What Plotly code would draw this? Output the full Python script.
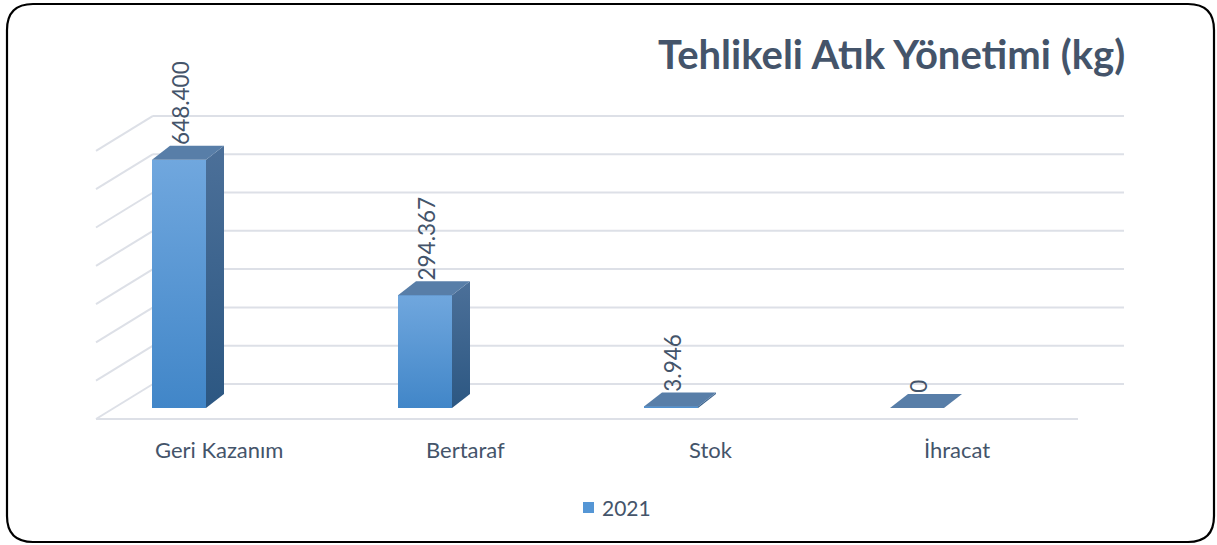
import plotly.graph_objects as go

# ---------------- data ----------------
categories = ["Geri Kazanım", "Bertaraf", "Stok", "İhracat"]
values_2021 = [648400, 294367, 3946, 0]
value_labels = ["648.400", "294.367", "3.946", "0"]
series_name = "2021"
title_text = "Tehlikeli Atık Yönetimi (kg)"
grid_ticks = [0, 100000, 200000, 300000, 400000, 500000, 600000, 700000]

# ---------------- layout constants (pixels) ----------------
W, H = 1217, 545
PXU = 38.3 / 100000.0          # px per value unit
BASE_PX = 408                  # pixel row of bar base (value 0)
CAT_PX = 246                   # px per category
FIRST_PX = 179                 # centre of first bar front
BAR_W_PX = 54
DEPTH_DX_PX, DEPTH_DY_PX = 18, 14      # bar depth
WALL_UP_PX = 24                # back wall 0 is 24 px above bar base
SIDE_DX_PX, SIDE_DY_PX = 57, 35        # floor depth

TXT = "#44546A"
GRID = "#DDE0E7"

def u(px):  # pixel distance -> value units
    return px / PXU

x_lo = FIRST_PX - CAT_PX / 2
x_hi = x_lo + CAT_PX * len(categories)
y_bottom = -u(H - BASE_PX)
y_top = u(BASE_PX)

DX = DEPTH_DX_PX / CAT_PX
DY = u(DEPTH_DY_PX)
BW = BAR_W_PX / CAT_PX
WALL_OFF = u(WALL_UP_PX)
SIDE_DY = u(SIDE_DY_PX)

fig = go.Figure()

# wall / floor decorations
shapes = []
back_x0, back_x1 = 153 / W, 1124 / W
side_x0 = 96 / W
for t in grid_ticks:
    shapes.append(dict(type="line", xref="paper", yref="y", x0=back_x0, x1=back_x1,
                       y0=t + WALL_OFF, y1=t + WALL_OFF, line=dict(color=GRID, width=2), layer="below"))
    shapes.append(dict(type="line", xref="paper", yref="y", x0=side_x0, x1=back_x0,
                       y0=t + WALL_OFF - SIDE_DY, y1=t + WALL_OFF, line=dict(color=GRID, width=2), layer="below"))
shapes.append(dict(type="line", xref="paper", yref="y", x0=side_x0, x1=1078 / W,
                   y0=WALL_OFF - SIDE_DY, y1=WALL_OFF - SIDE_DY, line=dict(color=GRID, width=2), layer="below"))

# front faces (bars)
xs = list(range(len(categories)))
fig.add_trace(go.Bar(x=xs, y=values_2021, width=BW, name=series_name,
                     marker=dict(color="#5596D5", line=dict(width=0)),
                     showlegend=False, hoverinfo="skip"))

for i, v in enumerate(values_2021):
    xl, xr = i - BW / 2, i + BW / 2
    if v > 0:
        # front gradient overlay
        fig.add_trace(go.Scatter(x=[xl, xr, xr, xl, xl], y=[0, 0, v, v, 0], mode="lines",
                                 fill="toself", line=dict(width=0),
                                 fillgradient=dict(type="vertical",
                                                   colorscale=[[0, "#4186C8"], [1, "#70A7DE"]]),
                                 showlegend=False, hoverinfo="skip"))
        # side face
        fig.add_trace(go.Scatter(x=[xr, xr + DX, xr + DX, xr, xr], y=[0, DY, v + DY, v, 0],
                                 mode="lines", fill="toself", line=dict(width=0),
                                 fillgradient=dict(type="vertical",
                                                   colorscale=[[0, "#2C5782"], [1, "#4C7099"]]),
                                 showlegend=False, hoverinfo="skip"))
    # top face
    fig.add_trace(go.Scatter(x=[xl, xr, xr + DX, xl + DX, xl], y=[v, v, v + DY, v + DY, v],
                             mode="lines", fill="toself", line=dict(width=0),
                             fillcolor="#587EA8", showlegend=False, hoverinfo="skip"))

annotations = []
for i, (v, lab) in enumerate(zip(values_2021, value_labels)):
    annotations.append(dict(x=i + 0.005, y=v + DY, xref="x", yref="y", text=lab, textangle=-90,
                            showarrow=False, xanchor="center", yanchor="bottom", yshift=-1,
                            font=dict(family="Lato", size=22.5, color=TXT)))
for i, c in enumerate(categories):
    annotations.append(dict(x=i + 40 / CAT_PX, y=1 - 449 / H, xref="x", yref="paper", text=c,
                            showarrow=False, xanchor="center", yanchor="middle",
                            font=dict(family="Lato", size=22, color=TXT)))
annotations.append(dict(x=1127 / W, y=1 - 54 / H, xref="paper", yref="paper", text=title_text,
                        showarrow=False, xanchor="right", yanchor="middle",
                        font=dict(family="Lato", size=40, color=TXT, weight="bold")))
# legend
shapes.append(dict(type="rect", xref="paper", yref="paper", x0=583 / W, x1=594 / W,
                   y0=1 - 513 / H, y1=1 - 502 / H, line=dict(width=0), fillcolor="#5596D5"))
annotations.append(dict(x=600 / W, y=1 - 507 / H, xref="paper", yref="paper", text=series_name,
                        showarrow=False, xanchor="left", yanchor="middle",
                        font=dict(family="Lato", size=21, color=TXT)))

# rounded border
l, r, t, b = 7 / W, 1214 / W, 1 - 4 / H, 1 - 542 / H
rx, ry = 26 / W, 26 / H
path = (f"M {l+rx},{t} L {r-rx},{t} Q {r},{t} {r},{t-ry} L {r},{b+ry} Q {r},{b} {r-rx},{b} "
        f"L {l+rx},{b} Q {l},{b} {l},{b+ry} L {l},{t-ry} Q {l},{t} {l+rx},{t} Z")
shapes.append(dict(type="path", xref="paper", yref="paper", path=path,
                   line=dict(color="black", width=2.2)))

fig.update_layout(
    width=W, height=H, margin=dict(l=0, r=0, t=0, b=0),
    paper_bgcolor="white", plot_bgcolor="rgba(0,0,0,0)",
    xaxis=dict(range=[-0.5, len(categories) - 0.5], domain=[x_lo / W, x_hi / W],
               visible=False, fixedrange=True),
    yaxis=dict(range=[y_bottom, y_top], domain=[0, 1], visible=False, fixedrange=True),
    shapes=shapes, annotations=annotations, showlegend=False, bargap=0,
)

fig.write_html("out.html", config={"displayModeBar": False},
               post_script="document.body.style.margin='0';document.body.style.overflow='hidden';")
